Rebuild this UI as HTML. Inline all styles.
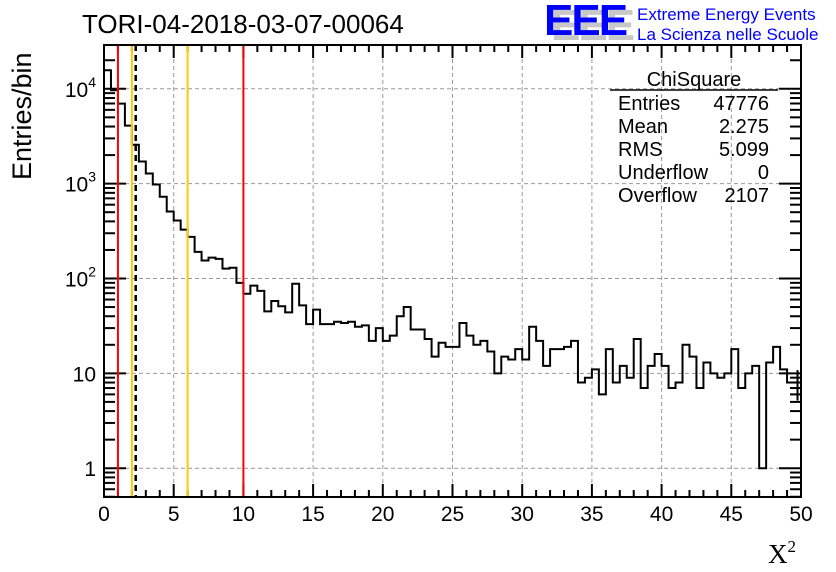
<!DOCTYPE html>
<html><head><meta charset="utf-8"><style>
body{margin:0;background:#fff;}
svg{display:block;font-family:"Liberation Sans",sans-serif;}
</style></head><body>
<svg id="chart" width="836" height="572" viewBox="0 0 836 572" xmlns="http://www.w3.org/2000/svg">
<rect width="836" height="572" fill="#fff"/>
<g id="grid"></g>
<g id="ticks"></g>
<g id="marks"></g>
<g id="vlines"></g>
<rect x="104" y="45" width="697" height="452" fill="none" stroke="#000" stroke-width="2"/>
<g id="labels" font-size="21"></g>
<text x="82" y="33" font-size="26">TORI-04-2018-03-07-00064</text>
<text transform="translate(31,180) rotate(-90)" font-size="27">Entries/bin</text>
<text x="768" y="563" font-size="27" font-family="Liberation Serif,serif">X<tspan font-size="17" dy="-11">2</tspan></text>
<g>
<text x="551" y="40" font-size="44" font-weight="bold" fill="#c8c8c8" letter-spacing="-2">EEE</text>
<text x="544" y="35" font-size="44" font-weight="bold" fill="#0000ff" letter-spacing="-2">EEE</text>
<text x="637" y="20" font-size="17" fill="#0000ff">Extreme Energy Events</text>
<text x="637" y="40" font-size="17" fill="#0000ff">La Scienza nelle Scuole</text>
</g>
<g font-size="20">
<text x="694" y="86" text-anchor="middle">ChiSquare</text>
<line x1="610" y1="90" x2="778" y2="90" stroke="#000" stroke-width="1.5"/>
<text x="618" y="110">Entries</text><text x="769" y="110" text-anchor="end">47776</text>
<text x="618" y="133">Mean</text><text x="769" y="133" text-anchor="end">2.275</text>
<text x="618" y="156">RMS</text><text x="769" y="156" text-anchor="end">5.099</text>
<text x="618" y="179">Underflow</text><text x="769" y="179" text-anchor="end">0</text>
<text x="618" y="202">Overflow</text><text x="769" y="202" text-anchor="end">2107</text>
</g>
</svg>
<script>
const binEdges=[0,50];
const binCounts=[15700,9640,6980,4090,2570,1710,1280,980,727,509,409,328,275,191,155,166,161,127,130,90,69,84,74,45,58,51,44,88,52,33,47,33,33,35,34,35,31,32,22,30,22,25,40,50,29,29,23,15,21,19,19,34,25,20,22,17,10,15,14,18,14,31,22,12,18,18,19,22,8,9,11,6,18,8,12,9,23,7,12,16,12,7,8,20,15,7,13,10,9,10,18,7,10,12,1,13,19,11,8,8];
const xTicks=[0,5,10,15,20,25,30,35,40,45,50];
const yTicks=[1,10,100,1000,10000];
const yTickLabels=["1","10","10^2","10^3","10^4"];
const redLines=[1,10];
const yellowLines=[2,6];
const meanValue=2.275;

const NS="http://www.w3.org/2000/svg";
const X0=104,X1=801,Y0=45,Y1=497;
function xs(v){return X0+(v-binEdges[0])/(binEdges[1]-binEdges[0])*(X1-X0);}
function ys(v){return 468.2-Math.log10(v)*94.85;}
function mk(tag,attrs,parent){const e=document.createElementNS(NS,tag);for(const k in attrs)e.setAttribute(k,attrs[k]);parent.appendChild(e);return e;}
const grid=document.getElementById('grid'),ticks=document.getElementById('ticks'),marks=document.getElementById('marks'),vl=document.getElementById('vlines'),labels=document.getElementById('labels');

xTicks.forEach(t=>{
  if(t>binEdges[0]&&t<binEdges[1]){const l=mk('line',{x1:xs(t),x2:xs(t),y1:Y0,y2:Y1,stroke:'#999','stroke-dasharray':'4,3'},grid);
  
  }
  const tx=mk('text',{x:xs(t),y:521,'text-anchor':'middle'},labels);tx.textContent=t;
  
  
});
for(let v=0;v<=50;v++){const big=v%5===0;const len=big?13:7;
  mk('line',{x1:xs(v),x2:xs(v),y1:Y1,y2:Y1-len,stroke:'#000','stroke-width':2},ticks);
  mk('line',{x1:xs(v),x2:xs(v),y1:Y0,y2:Y0+len,stroke:'#000','stroke-width':2},ticks);}
yTicks.forEach((t,i)=>{
  const l=mk('line',{x1:X0,x2:X1,y1:ys(t),y2:ys(t),stroke:'#999','stroke-dasharray':'4,3'},grid);
  
  
  const tx=mk('text',{x:96,y:ys(t)+8,'text-anchor':'end'},labels);
  const p=yTickLabels[i].split('^');
  if(p.length>1){tx.textContent=p[0];const s=mk('tspan',{'font-size':14,dy:-10},tx);s.textContent=p[1];}
  else tx.textContent=p[0];
  
  
});
for(let d=-1;d<=4;d++){for(let m=1;m<=9;m++){const v=m*Math.pow(10,d);const y=ys(v);if(y<Y0||y>Y1)continue;const len=m===1?22:11;
  mk('line',{x1:X0,x2:X0+len,y1:y,y2:y,stroke:'#000','stroke-width':2},ticks);
  mk('line',{x1:X1,x2:X1-len,y1:y,y2:y,stroke:'#000','stroke-width':2},ticks);}}

const n=binCounts.length,w=(binEdges[1]-binEdges[0])/n;
let d='M'+xs(binEdges[0])+','+Y1;
binCounts.forEach((c,i)=>{const y=Math.min(Y1,ys(Math.max(c,0.1)));d+=' L'+xs(binEdges[0]+i*w)+','+y+' L'+xs(binEdges[0]+(i+1)*w)+','+y;});
const path=mk('path',{d:d,fill:'none',stroke:'#000','stroke-width':2},marks);


const lc=binCounts[n-1],ex=xs(binEdges[0]+(n-0.5)*w);
mk('line',{x1:ex,x2:ex,y1:ys(lc+Math.sqrt(lc)),y2:ys(Math.max(lc-Math.sqrt(lc),0.6)),stroke:'#000','stroke-width':2},marks);

redLines.forEach(v=>{const l=mk('line',{x1:xs(v),x2:xs(v),y1:Y0,y2:Y1,stroke:'#ff0000','stroke-width':2},vl);
  
  });
yellowLines.forEach(v=>{const l=mk('line',{x1:xs(v),x2:xs(v),y1:Y0,y2:Y1,stroke:'#ffcc00','stroke-width':2},vl);
  
  });
const ml=mk('line',{x1:xs(meanValue),x2:xs(meanValue),y1:Y0,y2:Y1,stroke:'#000','stroke-width':2.5,'stroke-dasharray':'6,4'},vl);


</script>
</body></html>
